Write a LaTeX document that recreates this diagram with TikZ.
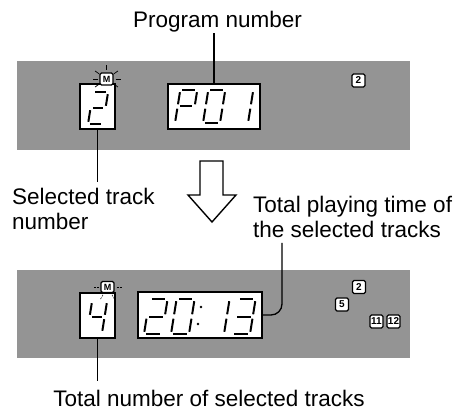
\documentclass[tikz,border=0pt]{standalone}
\usepackage{fontspec}
\setmainfont{Liberation Sans}
\usetikzlibrary{positioning}

\tikzset{
  panel/.style={fill=black!42, draw=none},
  segbox/.style={draw=black, fill=white, line width=1.2pt, inner sep=0pt},
  seg/.style={line width=2pt, line cap=butt},
  indic/.style={draw=black, fill=white, line width=1.1pt, rounded corners=1.5pt,
    inner sep=0pt, minimum width=13pt, minimum height=13pt,
    font=\fontsize{10}{10}\selectfont\bfseries},
  leader/.style={line width=1.3pt},
  lbl/.style={inner sep=0pt, font=\fontsize{22.5}{25}\selectfont},
  ray/.style={line width=0.7pt},
}

% seven segment digit: x, y (bottom left), width, height, segments
\def\dg{2.2}
\newcommand\sega{\draw[seg] (\dg,\dh) -- (\dw-\dg,\dh);}
\newcommand\segb{\draw[seg] (\dw,\dh-\dg) -- (\dw,\dh/2+\dg);}
\newcommand\segc{\draw[seg] (\dw,\dh/2-\dg) -- (\dw,\dg);}
\newcommand\segd{\draw[seg] (\dg,0) -- (\dw-\dg,0);}
\newcommand\sege{\draw[seg] (0,\dg) -- (0,\dh/2-\dg);}
\newcommand\segf{\draw[seg] (0,\dh/2+\dg) -- (0,\dh-\dg);}
\newcommand\segg{\draw[seg] (\dg,\dh/2) -- (\dw-\dg,\dh/2);}
\newcommand\segdigit[5]{%
  \begin{scope}[shift={(#1,#2)}, x={(1pt,0pt)}, y={(0.16pt,1pt)}]
    \def\dw{#3}\def\dh{#4}
    \foreach \s in {#5} {\csname seg\s\endcsname}
  \end{scope}}

\begin{document}
\begin{tikzpicture}[x=1pt, y=-1pt]
  \useasboundingbox (0,0) rectangle (460,411);

  % --- upper display ---
  \fill[panel] (17,61) rectangle (410,150);
  \node[segbox, minimum width=35pt, minimum height=45pt] (sel) at (97.5,106.5) {};
  \node[segbox, minimum width=92pt, minimum height=45pt] (pbox) at (214,106.5) {};
  \node[indic, minimum width=13pt, minimum height=12pt, font=\fontsize{9}{9}\selectfont\bfseries] (mtop) at (106.5,79) {M};
  \foreach \a in {0,35,145,180,215,270,325}
    \draw[ray] ([shift={(\a:9)}]mtop.center) -- ([shift={(\a:14)}]mtop.center);
  \node[indic] (itop) at (358.5,80.5) {2};

  \segdigit{88}{124}{15}{32}{a,b,g,e,d}
  \segdigit{175}{123}{17}{33}{a,b,f,g,e}
  \segdigit{203}{123}{17}{33}{a,b,c,d,e,f}
  \segdigit{231}{123}{17}{33}{b,c}

  \node[lbl, anchor=base] (prog) at (217.5,28) {Program number};
  \draw[leader] (pbox.north) -- (pbox.north |- prog.south);
  \node[lbl, anchor=north west, align=left] (seltxt) at (12,188) {Selected track\\number};
  \draw[leader, shorten >=6pt] (sel.south) -- (sel.south |- seltxt.north);

  % --- hollow arrow ---
  \draw[line width=1.4pt, line join=miter]
    (200,161) -- (223,161) -- (223,195) -- (236,195) -- (212,222)
    -- (188,195) -- (200,195) -- cycle;

  % --- lower display ---
  \fill[panel] (17,270) rectangle (410,358);
  \node[segbox, minimum width=35pt, minimum height=45pt] (cnt) at (97.5,315.5) {};
  \node[segbox, minimum width=124pt, minimum height=46pt] (tbox) at (200,315) {};
  \node[indic, minimum width=13pt, minimum height=11pt, font=\fontsize{9}{9}\selectfont\bfseries] (mbot) at (107.5,287) {M};
  \foreach \a in {0,60,120,180}
    \draw[ray, line width=0.5pt, dash pattern=on 2pt off 1pt]
      ([shift={(\a:9)}]mbot.center) -- ([shift={(\a:14)}]mbot.center);
  \node[indic] (i2) at (359,287) {2};
  \node[indic] (i5) at (342,304.5) {5};
  \node[indic] (i11) at (376.5,321.5) {11};
  \node[indic] (i12) at (393.5,321.5) {12};

  \segdigit{87}{333}{15}{32}{f,g,b,c}
  \segdigit{144}{334}{18}{35}{a,b,g,e,d}
  \segdigit{171}{334}{18}{35}{a,b,c,d,e,f}
  \segdigit{206}{334}{18}{35}{b,c}
  \segdigit{232}{334}{18}{35}{a,b,g,c,d}
  \fill (201,307) circle (1.3);
  \fill (198,324) circle (1.3);

  \node[lbl, anchor=north west, align=left] (tlbl) at (253,196) {Total playing time of\\the selected tracks};
  \coordinate (tknee) at (282,243);
  \draw[leader, rounded corners=11pt] (tknee) |- (tbox.east);

  \node[lbl, anchor=base] (totlbl) at (209,406) {Total number of selected tracks};
  \draw[leader, shorten >=8pt] (cnt.south) -- (cnt.south |- totlbl.north);
\end{tikzpicture}
\end{document}
